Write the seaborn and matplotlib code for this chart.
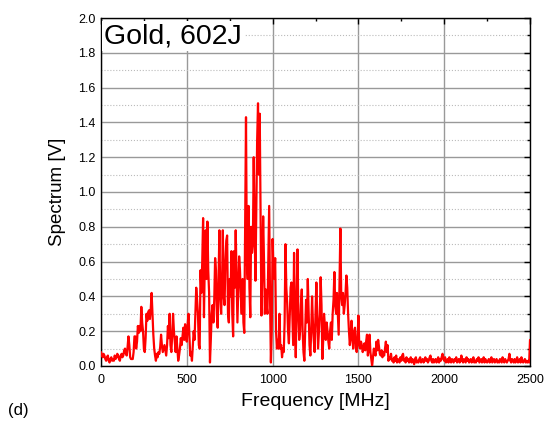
import numpy as np
import pandas as pd
import matplotlib
matplotlib.use("Agg")
import matplotlib.pyplot as plt
import seaborn as sns
from matplotlib.ticker import MultipleLocator

freq_step = 5
spectrum_rows = [
    # 0-95 MHz
    [0.08, 0.06, 0.05, 0.07, 0.06, 0.04, 0.03, 0.05, 0.06, 0.03, 0.02, 0.04, 0.05, 0.03, 0.04, 0.03, 0.06, 0.04, 0.05, 0.07],
    # 100-195
    [0.06, 0.04, 0.03, 0.06, 0.07, 0.05, 0.06, 0.09, 0.10, 0.07, 0.06, 0.11, 0.17, 0.12, 0.05, 0.04, 0.04, 0.04, 0.08, 0.17],
    # 200-295
    [0.17, 0.10, 0.14, 0.23, 0.19, 0.23, 0.20, 0.34, 0.25, 0.20, 0.10, 0.08, 0.16, 0.30, 0.26, 0.31, 0.32, 0.27, 0.33, 0.42],
    # 300-395
    [0.30, 0.18, 0.10, 0.06, 0.03, 0.07, 0.05, 0.08, 0.07, 0.11, 0.18, 0.12, 0.08, 0.10, 0.12, 0.09, 0.06, 0.12, 0.23, 0.16],
    # 400-495
    [0.30, 0.12, 0.08, 0.18, 0.30, 0.20, 0.14, 0.08, 0.17, 0.10, 0.03, 0.06, 0.10, 0.16, 0.12, 0.17, 0.22, 0.15, 0.24, 0.18],
    # 500-595
    [0.14, 0.24, 0.30, 0.18, 0.06, 0.08, 0.03, 0.12, 0.20, 0.15, 0.30, 0.45, 0.38, 0.30, 0.12, 0.10, 0.55, 0.42, 0.60, 0.85],
    # 600-695
    [0.28, 0.60, 0.78, 0.50, 0.83, 0.55, 0.42, 0.02, 0.15, 0.30, 0.35, 0.25, 0.38, 0.62, 0.55, 0.30, 0.22, 0.50, 0.78, 0.40],
    # 700-795
    [0.30, 0.45, 0.78, 0.40, 0.35, 0.60, 0.72, 0.75, 0.30, 0.25, 0.50, 0.40, 0.66, 0.30, 0.17, 0.66, 0.45, 0.78, 0.50, 0.25],
    # 800-895
    [0.45, 0.63, 0.55, 0.40, 0.30, 0.50, 0.25, 0.19, 0.80, 1.43, 0.60, 0.50, 0.92, 0.45, 0.28, 0.80, 0.65, 0.70, 1.20, 0.80],
    # 900-995
    [0.49, 0.90, 1.30, 1.51, 1.10, 1.45, 0.90, 0.29, 0.55, 0.86, 0.60, 0.30, 0.44, 0.35, 0.30, 0.60, 0.92, 0.40, 0.02, 0.20],
    # 1000-1095
    [0.73, 0.55, 0.50, 0.62, 0.20, 0.10, 0.15, 0.10, 0.30, 0.10, 0.12, 0.05, 0.10, 0.08, 0.25, 0.70, 0.45, 0.36, 0.20, 0.13],
    # 1100-1195
    [0.30, 0.45, 0.48, 0.30, 0.12, 0.65, 0.30, 0.05, 0.35, 0.67, 0.30, 0.15, 0.20, 0.35, 0.44, 0.20, 0.08, 0.03, 0.20, 0.38],
    # 1200-1295
    [0.25, 0.50, 0.30, 0.12, 0.06, 0.20, 0.40, 0.25, 0.15, 0.08, 0.30, 0.48, 0.30, 0.10, 0.20, 0.30, 0.51, 0.35, 0.04, 0.15],
    # 1300-1395
    [0.30, 0.22, 0.15, 0.25, 0.20, 0.14, 0.10, 0.20, 0.25, 0.15, 0.30, 0.38, 0.54, 0.35, 0.30, 0.42, 0.30, 0.18, 0.50, 0.79],
    # 1400-1495
    [0.40, 0.35, 0.42, 0.30, 0.35, 0.42, 0.52, 0.45, 0.30, 0.20, 0.12, 0.18, 0.26, 0.15, 0.10, 0.20, 0.22, 0.12, 0.08, 0.15],
    # 1500-1595
    [0.29, 0.12, 0.10, 0.14, 0.12, 0.08, 0.10, 0.13, 0.09, 0.14, 0.18, 0.06, 0.10, 0.18, 0.08, 0.04, 0.00, 0.05, 0.10, 0.08],
    # 1600-1695
    [0.06, 0.14, 0.09, 0.15, 0.11, 0.07, 0.06, 0.09, 0.05, 0.08, 0.06, 0.10, 0.14, 0.08, 0.12, 0.03, 0.05, 0.04, 0.07, 0.03],
    # 1700-1795
    [0.04, 0.02, 0.05, 0.03, 0.06, 0.02, 0.04, 0.03, 0.02, 0.05, 0.03, 0.06, 0.07, 0.03, 0.04, 0.02, 0.05, 0.03, 0.04, 0.02],
    # 1800-1895
    [0.03, 0.05, 0.02, 0.04, 0.03, 0.01, 0.04, 0.05, 0.02, 0.03, 0.02, 0.04, 0.05, 0.02, 0.03, 0.04, 0.02, 0.03, 0.05, 0.03],
    # 1900-1995
    [0.04, 0.02, 0.03, 0.05, 0.06, 0.03, 0.02, 0.04, 0.02, 0.03, 0.04, 0.02, 0.03, 0.05, 0.02, 0.04, 0.03, 0.05, 0.07, 0.04],
    # 2000-2095
    [0.03, 0.05, 0.02, 0.03, 0.04, 0.02, 0.05, 0.03, 0.02, 0.04, 0.03, 0.02, 0.04, 0.03, 0.05, 0.02, 0.03, 0.04, 0.02, 0.03],
    # 2100-2195
    [0.06, 0.03, 0.02, 0.04, 0.03, 0.02, 0.05, 0.03, 0.04, 0.02, 0.03, 0.04, 0.02, 0.03, 0.05, 0.02, 0.03, 0.02, 0.04, 0.03],
    # 2200-2295
    [0.05, 0.02, 0.03, 0.04, 0.02, 0.03, 0.05, 0.02, 0.04, 0.03, 0.02, 0.03, 0.04, 0.02, 0.03, 0.05, 0.02, 0.03, 0.04, 0.02],
    # 2300-2395
    [0.03, 0.04, 0.02, 0.03, 0.02, 0.04, 0.03, 0.02, 0.05, 0.03, 0.02, 0.04, 0.03, 0.02, 0.03, 0.04, 0.07, 0.03, 0.02, 0.04],
    # 2400-2495
    [0.03, 0.02, 0.04, 0.02, 0.03, 0.05, 0.02, 0.03, 0.04, 0.02, 0.05, 0.03, 0.02, 0.03, 0.04, 0.02, 0.03, 0.02, 0.03, 0.02],
    # 2500
    [0.15],
]
spectrum = [v for row in spectrum_rows for v in row]
frequency = [i * freq_step for i in range(len(spectrum))]

x_ticks = [0, 500, 1000, 1500, 2000, 2500]
y_ticks = [0.0, 0.2, 0.4, 0.6, 0.8, 1.0, 1.2, 1.4, 1.6, 1.8, 2.0]

df = pd.DataFrame({"Frequency": frequency, "Spectrum": spectrum})

sns.set_style("white")
plt.rcParams["font.family"] = ["Liberation Sans", "DejaVu Sans"]
plt.rcParams["text.color"] = "black"
plt.rcParams["axes.labelcolor"] = "black"

fig = plt.figure(figsize=(5.54, 4.23), dpi=100)
ax = fig.add_axes([0.1823, 0.1348, 0.9567 - 0.1823, 0.9574 - 0.1348])

sns.lineplot(data=df, x="Frequency", y="Spectrum", ax=ax, color="#ff0000",
             linewidth=1.6, zorder=3)

ax.set_xlim(0, 2500)
ax.set_ylim(0, 2.0)
ax.set_xticks(x_ticks)
ax.set_yticks(y_ticks)
ax.set_xticklabels([str(t) for t in x_ticks])
ax.set_yticklabels([f"{t:.1f}" for t in y_ticks])
ax.xaxis.set_minor_locator(MultipleLocator(250))
ax.yaxis.set_minor_locator(MultipleLocator(0.1))

ax.grid(which="major", axis="both", color="#999999", linewidth=1.0, linestyle="-", zorder=1)
ax.grid(which="minor", axis="y", color="#bbbbbb", linewidth=0.8, linestyle=":", zorder=1)
ax.set_axisbelow(True)

ax.tick_params(which="both", direction="in", top=True, right=True, colors="black",
               labelcolor="black", labelsize=9, width=1.0)
ax.tick_params(which="major", length=4)
ax.tick_params(which="minor", length=2.5)
ax.tick_params(axis="x", which="major", pad=6)
ax.tick_params(axis="y", which="major", pad=4)
for s in ax.spines.values():
    s.set_color("black")
    s.set_linewidth(1.0)

ax.set_xlabel("Frequency [MHz]", fontsize=14, labelpad=5, color="black")
ax.set_ylabel("Spectrum [V]", fontsize=13.5, labelpad=9, color="black")

ax.text(0.008, 0.985, "Gold, 602J", transform=ax.transAxes, fontsize=20.5,
        ha="left", va="top", zorder=5, color="black",
        bbox=dict(facecolor="white", edgecolor="none", pad=1.5))
fig.text(8 / 554, 1 - 410 / 423, "(d)", fontsize=12, ha="left", va="center", color="black")

fig.savefig("out.png", dpi=100)
